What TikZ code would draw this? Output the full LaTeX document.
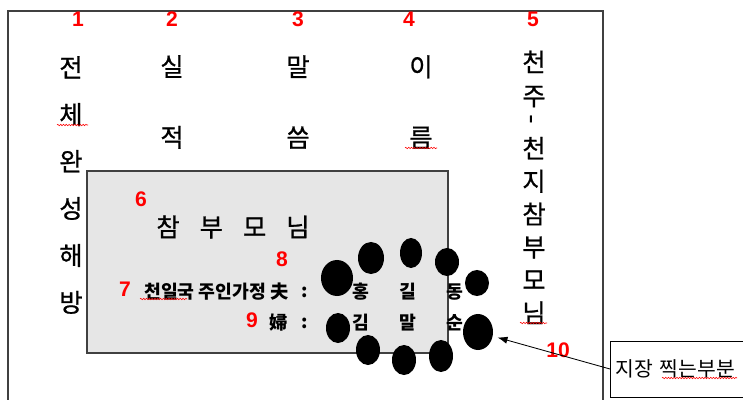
\documentclass[tikz,border=0pt]{standalone}
\usepackage{fontspec}
\newfontfamily\kr{Noto Sans CJK KR}
\newfontfamily\krheavy[FakeBold=0.8]{Noto Sans CJK KR}
\newfontfamily\numfont{Liberation Sans}
\usetikzlibrary{shapes.geometric,arrows.meta,decorations.pathmorphing}
\definecolor{framegray}{RGB}{64,64,64}
\definecolor{cardgray}{RGB}{230,230,230}
\definecolor{markred}{RGB}{255,0,0}

\begin{document}
\begin{tikzpicture}[
        x=0.025cm, y=-0.025cm,
        % red reference numbers
        rednum/.style={text=markred, inner sep=0pt,
            font=\numfont\bfseries\fontsize{15}{17}\selectfont},
        colchar/.style={align=center, inner sep=0pt,
            font=\krheavy\fontsize{18}{#1}\selectfont},
        inline/.style={inner sep=0pt, font=\kr\bfseries\fontsize{13}{15}\selectfont},
        blob/.style={ellipse, fill=black, inner sep=0pt},
        squiggle/.style={draw=markred, line width=0.4pt, decorate,
            decoration={snake, amplitude=0.5pt, segment length=2pt}}
    ]
        \clip (0,0) rectangle (743,400);

        % Outer frame
        \draw[framegray, line width=1.2pt] (8,400) |- (603,11) -- (603,400);

        % Vertical columns
        \node[colchar=33.4] (col1) at (71,185) {전\\체\\완\\성\\해\\방};
        \node[colchar=50.3] (col2) at (172,102) {실\\적};
        \node[colchar=50.3] (col3) at (298,102) {말\\씀};
        \node[colchar=50.3] (col4) at (421,102) {이\\름};
        \node[colchar=24.1] (col5a) at (534,79) {천\\주};
        \node[colchar=20] (col5dot) at (534,119) {\rotatebox{90}{-}};
        \node[colchar=23.4] (col5b) at (534,230.5) {천\\지\\참\\부\\모\\님};

        % Card
        \node[draw=framegray, fill=cardgray, line width=0.8pt, inner sep=0pt,
            minimum width=9.025cm, minimum height=4.55cm] (card) at (267.5,262) {};
        \node[inner sep=0pt, font=\krheavy\fontsize{18}{20}\selectfont] (title) at (233,227)
            {참\hspace{0.5cm}부\hspace{0.5cm}모\hspace{0.5cm}님};
        \node[inline, anchor=east] (household) at (289,292) {천일국 주인가정 夫};
        \node[inline] (wife) at (279,323) {婦};
        \node[inline] (colon1) at (305,292) {:};
        \node[inline] (colon2) at (305,323) {:};
        \node[inline] (h1) at (361,292) {홍};
        \node[inline] (h2) at (408,292) {길};
        \node[inline] (h3) at (455,292) {동};
        \node[inline] (w1) at (361,323) {김};
        \node[inline] (w2) at (408,323) {말};
        \node[inline] (w3) at (455,323) {순};

        % Stamp marks
        \node[blob, minimum width=0.8cm, minimum height=0.9cm] (blob1) at (337,278) {};
        \node[blob, minimum width=0.65cm, minimum height=0.8cm] (blob2) at (371,258) {};
        \node[blob, minimum width=0.55cm, minimum height=0.75cm] (blob3) at (411,253) {};
        \node[blob, minimum width=0.6cm, minimum height=0.7cm] (blob4) at (447,262) {};
        \node[blob, minimum width=0.6cm, minimum height=0.65cm] (blob5) at (477,283) {};
        \node[blob, minimum width=0.75cm, minimum height=0.9cm] (blob6) at (478,332) {};
        \node[blob, minimum width=0.6cm, minimum height=0.8cm] (blob7) at (441,356) {};
        \node[blob, minimum width=0.6cm, minimum height=0.75cm] (blob8) at (404,360) {};
        \node[blob, minimum width=0.6cm, minimum height=0.75cm] (blob9) at (368,350) {};
        \node[blob, minimum width=0.6cm, minimum height=0.75cm] (blob10) at (338,328) {};

        % Label box
        \node[draw=black, line width=0.6pt, anchor=west, text width=3.3cm, align=left,
            inner xsep=0.125cm, minimum height=1.4cm,
            font=\kr\fontsize{14.5}{16}\selectfont] (label) at (610,369) {지장 찍는부분};

        % Numbers
        \node[rednum] (num1) at (78,19) {1};
        \node[rednum] (num2) at (172,19) {2};
        \node[rednum] (num3) at (298,19) {3};
        \node[rednum] (num4) at (409,19) {4};
        \node[rednum] (num5) at (533,19) {5};
        \node[rednum] (num6) at (141,199) {6};
        \node[rednum] (num7) at (125,289) {7};
        \node[rednum] (num8) at (282,259) {8};
        \node[rednum] (num9) at (252,320) {9};
        \node[rednum] (num10) at (558,350) {10};

        % Connections
        \draw[-{Latex[length=2.5mm,width=1.8mm]}, line width=0.6pt, shorten >=0.12cm]
            (label.west) -- (blob6);

        % Spelling marks
        \draw[squiggle] (57,125) -- (88,125);
        \draw[squiggle] (405,148) -- (437,148);
        \draw[squiggle] (520,323) -- (547,323);
        \draw[squiggle] (140,299) -- (187,299);
        \draw[squiggle] (662,378) -- (737,378);
    \end{tikzpicture}
\end{document}
